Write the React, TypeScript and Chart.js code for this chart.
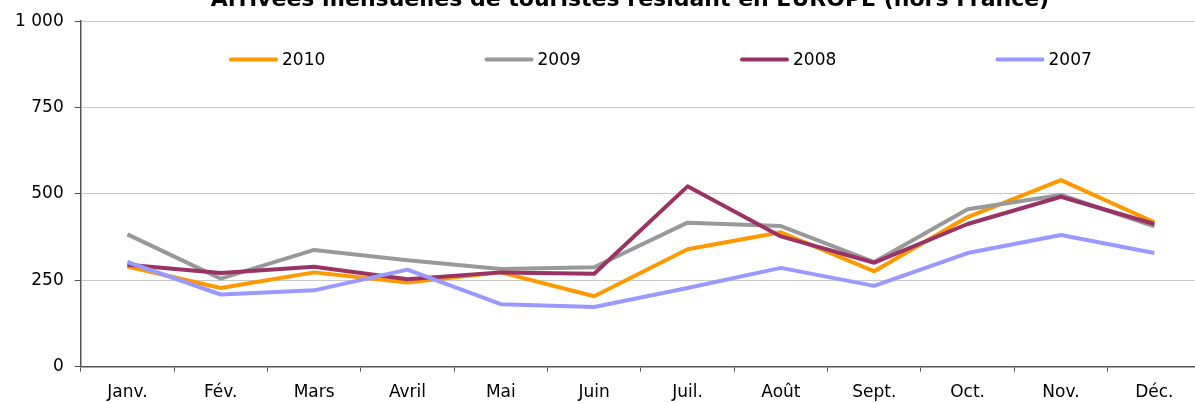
import React, { useEffect, useRef } from "react";
import { Chart, registerables } from "chart.js";

Chart.register(...registerables);

const TITLE = "Arrivées mensuelles de touristes résidant en EUROPE (hors France)";
const MONTHS = ["Janv.", "Fév.", "Mars", "Avril", "Mai", "Juin", "Juil.", "Août", "Sept.", "Oct.", "Nov.", "Déc."];
const SERIES_LABELS = ["2010", "2009", "2008", "2007"];
const S2010 = [290, 228, 273, 244, 273, 204, 340, 389, 276, 433, 540, 418];
const S2009 = [383, 255, 338, 308, 283, 288, 417, 407, 303, 456, 497, 406];
const S2008 = [295, 271, 289, 253, 273, 269, 522, 377, 301, 413, 492, 413];
const S2007 = [303, 209, 221, 281, 181, 173, 228, 286, 234, 329, 381, 329];
const Y_TICKS = [0, 250, 500, 750, 1000];
const COLORS = ["#FF9900", "#999999", "#993366", "#9999FF"];

const FONT = '"DejaVu Sans", Verdana, sans-serif';

const fmt = (v: number) => {
  const s = String(Math.round(v));
  return s.replace(/\B(?=(\d{3})+(?!\d))/g, " ");
};

const overlay = {
  id: "overlay",
  afterDraw(chart: any) {
    const ctx = chart.ctx;
    ctx.save();
    ctx.fillStyle = "#000";
    ctx.font = `bold 22px ${FONT}`;
    ctx.textAlign = "center";
    ctx.textBaseline = "alphabetic";
    ctx.fillText(TITLE, 630, 6);
    ctx.font = `17px ${FONT}`;
    ctx.textAlign = "left";
    ctx.textBaseline = "middle";
    chart.data.datasets.forEach((ds: any, i: number) => {
      const x0 = 230 + i * 255.5;
      const y = 59.5;
      ctx.strokeStyle = ds.borderColor;
      ctx.lineWidth = 4;
      ctx.lineCap = "round";
      ctx.beginPath();
      ctx.moveTo(x0 + 1, y);
      ctx.lineTo(x0 + 46, y);
      ctx.stroke();
      ctx.fillStyle = "#000";
      ctx.fillText(ds.label, x0 + 52, y + 1);
    });
    ctx.restore();
  },
};

export default function App() {
  const ref = useRef<HTMLCanvasElement>(null);
  useEffect(() => {
    if (!ref.current) return;
    const values = [S2010, S2009, S2008, S2007];
    const chart = new Chart(ref.current, {
      type: "line",
      data: {
        labels: MONTHS,
        datasets: SERIES_LABELS.map((label, i) => ({
          label,
          data: values[i],
          borderColor: COLORS[i],
          backgroundColor: COLORS[i],
          borderWidth: 4,
          pointRadius: 0,
          tension: 0,
          borderJoinStyle: "round" as const,
          order: SERIES_LABELS.length - 1 - i,
        })),
      },
      options: {
        animation: false,
        responsive: false,
        maintainAspectRatio: false,
        layout: { padding: { top: 19.5, left: 0, right: 0, bottom: 0 } },
        plugins: {
          legend: { display: false },
          title: { display: false },
          tooltip: { enabled: false },
        },
        scales: {
          x: {
            type: "category",
            offset: true,
            grid: {
              offset: true,
              drawOnChartArea: false,
              tickLength: 5,
              color: "#555555",
              lineWidth: 1,
            },
            border: { color: "#555555", width: 1.5 },
            ticks: {
              color: "#000",
              font: { family: FONT, size: 17 },
              padding: 11,
              maxRotation: 0,
              autoSkip: false,
            },
            afterFit: (scale: any) => {
              scale.height = 36.3;
            },
          },
          y: {
            min: 0,
            max: 1000,
            afterBuildTicks: (scale: any) => {
              scale.ticks = Y_TICKS.map((v) => ({ value: v }));
            },
            grid: {
              color: "#C8C8C8",
              lineWidth: 1,
              tickLength: 6,
              tickColor: "#555555",
            },
            border: { color: "#555555", width: 1.5 },
            ticks: {
              color: "#000",
              font: { family: FONT, size: 17 },
              padding: 11,
              callback: (v: any) => fmt(Number(v)),
            },
            afterFit: (scale: any) => {
              scale.width = 80.7;
            },
          },
        },
      },
      plugins: [overlay],
    });
    return () => chart.destroy();
  }, []);
  return (
    <div
      style={{
        position: "fixed",
        left: 0,
        top: 0,
        width: 1195,
        height: 403,
        overflow: "hidden",
        background: "#fff",
      }}
    >
      <canvas ref={ref} width={1201} height={403} style={{ display: "block" }} />
    </div>
  );
}
